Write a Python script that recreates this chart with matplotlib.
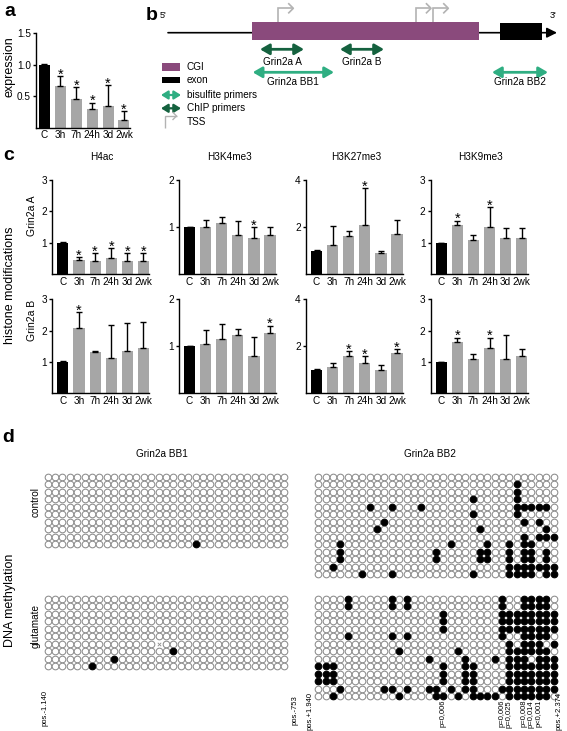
import matplotlib
matplotlib.use('Agg')
import matplotlib.pyplot as plt
from matplotlib.patches import Rectangle, FancyArrowPatch
import matplotlib.transforms as mtransforms
import numpy as np

plt.rcParams['font.family'] = ['Liberation Sans', 'DejaVu Sans']

# ---------------- data ----------------
times = ['C', '3h', '7h', '24h', '3d', '2wk']

expr_mean = [1.0, 0.66, 0.45, 0.30, 0.35, 0.13]
expr_err = [0.01, 0.16, 0.19, 0.10, 0.33, 0.13]
expr_sig = [0, 1, 1, 1, 1, 1]

marks = ['H4ac', 'H3K4me3', 'H3K27me3', 'H3K9me3']
mark_ymax = [3, 2, 4, 3]
mark_yticks = [[1, 2, 3], [1, 2], [2, 4], [1, 2, 3]]
regions = ['Grin2a A', 'Grin2a B']

h4ac_A_mean = [1.0, 0.46, 0.42, 0.51, 0.42, 0.42]
h4ac_A_err = [0.02, 0.08, 0.25, 0.32, 0.25, 0.25]
h4ac_A_sig = [0, 1, 1, 1, 1, 1]
h3k4_A_mean = [1.0, 1.0, 1.08, 0.84, 0.77, 0.83]
h3k4_A_err = [0.01, 0.16, 0.13, 0.30, 0.23, 0.18]
h3k4_A_sig = [0, 0, 0, 0, 1, 0]
h3k27_A_mean = [1.0, 1.26, 1.61, 2.10, 0.91, 1.69]
h3k27_A_err = [0.03, 0.77, 0.22, 1.57, 0.06, 0.60]
h3k27_A_sig = [0, 0, 0, 1, 0, 0]
h3k9_A_mean = [1.0, 1.58, 1.10, 1.50, 1.16, 1.17]
h3k9_A_err = [0.01, 0.13, 0.15, 0.65, 0.31, 0.29]
h3k9_A_sig = [0, 1, 0, 1, 0, 0]

h4ac_B_mean = [1.0, 2.07, 1.31, 1.14, 1.35, 1.46]
h4ac_B_err = [0.02, 0.52, 0.05, 1.04, 0.88, 0.83]
h4ac_B_sig = [0, 1, 0, 0, 0, 0]
h3k4_B_mean = [1.0, 1.04, 1.15, 1.25, 0.80, 1.28]
h3k4_B_err = [0.01, 0.30, 0.33, 0.12, 0.40, 0.16]
h3k4_B_sig = [0, 0, 0, 0, 0, 1]
h3k27_B_mean = [0.99, 1.10, 1.59, 1.30, 1.01, 1.72]
h3k27_B_err = [0.03, 0.21, 0.21, 0.29, 0.19, 0.18]
h3k27_B_sig = [0, 0, 1, 1, 0, 1]
h3k9_B_mean = [1.0, 1.65, 1.10, 1.43, 1.10, 1.20]
h3k9_B_err = [0.01, 0.13, 0.14, 0.35, 0.76, 0.21]
h3k9_B_sig = [0, 1, 0, 1, 0, 0]

# methylation grids: filled CpG columns per clone (row)
n_cpg_bb1 = 33
n_cpg_bb2 = 33
bb1_control_filled = [[], [], [], [], [], [], [], [], [], [20]]
bb1_glutamate_filled = [[], [], [], [], [], [], [], [17], [9], [6]]
bb1_glutamate_missing = [(6, 15)]
bb2_control_filled = [
    [],
    [27],
    [27],
    [21, 27],
    [7, 10, 14, 27, 28, 29, 30, 31],
    [21, 27],
    [9, 28, 30],
    [8, 22, 31],
    [28, 30, 31, 32],
    [3, 18, 23, 26, 28, 29],
    [3, 16, 22, 23, 26, 28, 29, 31],
    [3, 16, 22, 23, 26, 28, 29, 31],
    [2, 26, 27, 28, 29, 30, 31, 32],
    [6, 10, 21, 26, 27, 28, 29, 31, 32],
]
bb2_glutamate_filled = [
    [4, 10, 12, 25, 28, 29, 30, 31],
    [4, 10, 12, 25, 28, 29, 30, 31],
    [17, 25, 26, 27, 28, 29, 30, 31, 32],
    [17, 25, 26, 27, 28, 29, 30, 31, 32],
    [17, 25, 26, 27, 28, 29, 30, 31, 32],
    [4, 10, 12, 25, 28, 29, 30, 31],
    [26, 28, 29, 30, 32],
    [11, 19, 26, 27, 28, 29, 30, 31],
    [15, 20, 24, 26, 27, 28, 30, 31, 32],
    [0, 1, 2, 17, 20, 21, 26, 27, 28, 29, 30, 31, 32],
    [0, 1, 2, 17, 20, 21, 26, 27, 28, 29, 30, 31, 32],
    [0, 1, 2, 17, 20, 21, 26, 27, 28, 29, 30, 31, 32],
    [3, 9, 10, 12, 15, 16, 18, 20, 21, 25, 26, 27, 28, 29, 30, 31, 32],
    [2, 11, 16, 17, 19, 21, 22, 23, 24, 26, 27, 28, 29, 30, 31],
]
pval_cols = [17, 25, 26, 28, 29, 30]
pval_labels = ['p=0,006', 'p=0,006', 'p=0,025', 'p=0,008', 'p=0,014', 'p<0,001']

# gene diagram (panel b, drawing units)
gene_span = (168, 557)
cgi_span = (251.7, 479)
exon_span = (500, 541.7)
tss_pos = [278.3, 416, 433.3]
chip_names = ['Grin2a A', 'Grin2a B']
chip_spans = [(260, 304), (340, 384)]
bis_names = ['Grin2a BB1', 'Grin2a BB2']
bis_spans = [(252.7, 334), (492, 548)]

# ---------------- figure ----------------
W, H = 567, 731
fig = plt.figure(figsize=(W / 100, H / 100), dpi=100)

def px_axes(x0, y0, x1, y1):
    return fig.add_axes([x0 / W, 1 - y1 / H, (x1 - x0) / W, (y1 - y0) / H])

def ftext(x, y, s, **kw):
    return fig.text(x / W, 1 - y / H, s, **kw)

FS = 7.2
BLACK = '#000000'
GREY = '#a6a6a6'
CGI_C = '#8a4a7c'
BIS_C = '#2fae82'
CHIP_C = '#15623f'
TSS_C = '#b3b3b3'


def bar_panel(ax, means, errs, sig, ymax, yticks, ylabels, xleft, xright):
    x = np.arange(len(times))
    colors = [BLACK] + [GREY] * (len(times) - 1)
    ax.bar(x, means, width=0.69, color=colors, zorder=2)
    ax.errorbar(x, means, yerr=[np.zeros(len(x)), errs], fmt='none',
                ecolor='black', elinewidth=1.0, capsize=2.3, capthick=1.0, zorder=3)
    trans = mtransforms.offset_copy(ax.transData, fig=fig, x=0, y=-1.9, units='points')
    for xi, m, e, s in zip(x, means, errs, sig):
        if s:
            ax.text(xi, m + e, '*', ha='center', va='baseline', fontsize=10.5,
                    transform=trans, clip_on=False)
    ax.set_xlim(xleft, xright)
    ax.set_ylim(0, ymax)
    for sp in ['top', 'right']:
        ax.spines[sp].set_visible(False)
    for sp in ['left', 'bottom']:
        ax.spines[sp].set_linewidth(1.0)
    ax.set_yticks(yticks)
    ax.set_yticklabels(ylabels, fontsize=FS)
    ax.set_xticks(x)
    ax.set_xticklabels(times, fontsize=FS)
    ax.tick_params(axis='x', length=0, pad=2)
    ax.tick_params(axis='y', length=2.2, width=1.0, pad=1.5)
    ax.patch.set_alpha(0)


# ---- panel a ----
ftext(10, 12, 'a', fontsize=14, fontweight='bold', ha='center', va='center')
axa = px_axes(36, 33.3, 129.5, 127.7)
bar_panel(axa, expr_mean, expr_err, expr_sig, 1.5, [0.5, 1.0, 1.5],
          ['0.5', '1.0', '1.5'], -0.53, 5.35)
ftext(10, 67, 'expression', fontsize=9, rotation=90, ha='center', va='center')

# ---- panel b ----
ftext(152, 15, 'b', fontsize=14, fontweight='bold', ha='center', va='center')
axb = px_axes(140, 0, 567, 135)
axb.set_xlim(140, 567)
axb.set_ylim(135, 0)
axb.axis('off')
line_y = 32.7
axb.text(163, 15, "5'", fontsize=6.5, ha='center', va='center')
axb.text(553, 15, "3'", fontsize=6.5, ha='center', va='center')
axb.add_patch(FancyArrowPatch((gene_span[0], line_y), (gene_span[1], line_y),
                              arrowstyle='-|>,head_length=0.6,head_width=0.3',
                              mutation_scale=10, color='black', lw=1.2,
                              shrinkA=0, shrinkB=0, zorder=1))
axb.add_patch(Rectangle((cgi_span[0], 21.7), cgi_span[1] - cgi_span[0], 18.3,
                        facecolor=CGI_C, edgecolor='none', zorder=2))
axb.add_patch(Rectangle((exon_span[0], 22.7), exon_span[1] - exon_span[0], 17.3,
                        facecolor='black', edgecolor='none', zorder=2))


def tss_icon(x, ybase, ytop, length, lw=1.2, head=4.5):
    axb.plot([x, x, x + length], [ybase, ytop, ytop], color=TSS_C, lw=lw,
             solid_capstyle='butt', solid_joinstyle='miter', zorder=3)
    axb.plot([x + length - head, x + length, x + length - head],
             [ytop - head, ytop, ytop + head], color=TSS_C, lw=lw, zorder=3)


for tx in tss_pos:
    tss_icon(tx, 21.7, 8.3, 15)


def dbl_arrow(x0, x1, y, color, hl=0.55, hw=0.32, lw=2.0):
    axb.add_patch(FancyArrowPatch((x0, y), (x1, y),
                                  arrowstyle='<|-|>,head_length=%g,head_width=%g' % (hl, hw),
                                  mutation_scale=10, color=color, lw=lw,
                                  shrinkA=0, shrinkB=0))


for name, (s0, s1) in zip(chip_names, chip_spans):
    dbl_arrow(s0, s1, 49.3, CHIP_C)
    axb.text((s0 + s1) / 2, 61.7, name, fontsize=FS, ha='center', va='center')
for name, (s0, s1) in zip(bis_names, bis_spans):
    dbl_arrow(s0, s1, 72.3, BIS_C)
    axb.text((s0 + s1) / 2, 81.7, name, fontsize=FS, ha='center', va='center')

# legend
axb.add_patch(Rectangle((161.7, 62.7), 18.3, 8, facecolor=CGI_C, edgecolor='none'))
axb.add_patch(Rectangle((161.7, 76.7), 18.3, 6.6, facecolor='black', edgecolor='none'))
dbl_arrow(161, 181, 95, BIS_C, hl=0.4, hw=0.25, lw=1.6)
dbl_arrow(161, 181, 108.3, CHIP_C, hl=0.4, hw=0.25, lw=1.6)
tss_icon(165, 128, 116, 11.5, lw=1.0, head=3.5)
for ty, lab in zip([66.7, 80, 95, 108.3, 121.7],
                   ['CGI', 'exon', 'bisulfite primers', 'ChIP primers', 'TSS']):
    axb.text(186.7, ty, lab, fontsize=FS, ha='left', va='center')

# ---- panel c ----
ftext(9, 155, 'c', fontsize=14, fontweight='bold', ha='center', va='center')
col_left = [52.3, 179, 306, 430.7]
row_tb = [(180, 274.3), (299.3, 393.3)]
data_c = [
    [(h4ac_A_mean, h4ac_A_err, h4ac_A_sig), (h3k4_A_mean, h3k4_A_err, h3k4_A_sig),
     (h3k27_A_mean, h3k27_A_err, h3k27_A_sig), (h3k9_A_mean, h3k9_A_err, h3k9_A_sig)],
    [(h4ac_B_mean, h4ac_B_err, h4ac_B_sig), (h3k4_B_mean, h3k4_B_err, h3k4_B_sig),
     (h3k27_B_mean, h3k27_B_err, h3k27_B_sig), (h3k9_B_mean, h3k9_B_err, h3k9_B_sig)],
]
for r in range(2):
    for c in range(4):
        t, b = row_tb[r]
        ax = px_axes(col_left[c], t, col_left[c] + 97, b)
        m, e, s = data_c[r][c]
        bar_panel(ax, m, e, s, mark_ymax[c], mark_yticks[c],
                  [str(v) for v in mark_yticks[c]], -0.66, 5.37)
        if r == 0:
            ftext(col_left[c] + 50, 157, marks[c], fontsize=FS, ha='center', va='center')
ftext(31.7, 216, regions[0], fontsize=7.5, rotation=90, ha='center', va='center')
ftext(31.7, 320, regions[1], fontsize=7.5, rotation=90, ha='center', va='center')
ftext(10, 285, 'histone modifications', fontsize=9, rotation=90, ha='center', va='center')

# ---- panel d ----
ftext(8, 437, 'd', fontsize=14, fontweight='bold', ha='center', va='center')
ftext(161.7, 454, 'Grin2a BB1', fontsize=FS, ha='center', va='center')
ftext(430, 454, 'Grin2a BB2', fontsize=FS, ha='center', va='center')
ftext(35.5, 502, 'control', fontsize=7.2, rotation=90, ha='center', va='center')
ftext(35.5, 626, 'glutamate', fontsize=7.2, rotation=90, ha='center', va='center')
ftext(10, 600, 'DNA methylation', fontsize=9, rotation=90, ha='center', va='center')


def meth_grid(x0, y0, dx, dy, ncol, filled, missing=()):
    nrow = len(filled)
    ax = px_axes(x0 - dx / 2, y0 - dy / 2, x0 + (ncol - 0.5) * dx, y0 + (nrow - 0.5) * dy)
    ax.set_xlim(-0.5, ncol - 0.5)
    ax.set_ylim(nrow - 0.5, -0.5)
    ax.axis('off')
    miss = set(missing)
    ox, oy, fx, fy, mx, my = [], [], [], [], [], []
    for r, row in enumerate(filled):
        for c in range(ncol):
            if (r, c) in miss:
                mx.append(c); my.append(r)
            elif c in row:
                fx.append(c); fy.append(r)
            else:
                ox.append(c); oy.append(r)
    ax.scatter(ox, oy, s=23, facecolor='white', edgecolor='#8c8c8c', linewidth=0.75,
               clip_on=False)
    ax.scatter(fx, fy, s=23, facecolor='black', edgecolor='black', linewidth=0.75,
               clip_on=False)
    if mx:
        ax.scatter(mx, my, s=6, marker='x', color='#8c8c8c', linewidth=0.6, clip_on=False)
    return ax


ax_b1c = meth_grid(47.5, 476.7, 7.4, 7.5, n_cpg_bb1, bb1_control_filled)
ax_b1g = meth_grid(47.5, 598.7, 7.4, 7.5, n_cpg_bb1, bb1_glutamate_filled,
                   bb1_glutamate_missing)
ax_b2c = meth_grid(318.3, 476.7, 7.35, 7.5, n_cpg_bb2, bb2_control_filled)
ax_b2g = meth_grid(318.3, 598.7, 7.35, 7.5, n_cpg_bb2, bb2_glutamate_filled)

PFS = 5.5
ax_b1g.text(-0.34, 12.2, 'pos.-1.140', fontsize=PFS, rotation=90, ha='center', va='top',
            clip_on=False)
ax_b1g.text(33.4, 12.9, 'pos.-753', fontsize=PFS, rotation=90, ha='center', va='top',
            clip_on=False)
ax_b2g.text(-1.13, 12.4, 'pos.+1.940', fontsize=PFS, rotation=90, ha='center', va='top',
            clip_on=False)
ax_b2g.text(32.7, 12.4, 'pos.+2.374', fontsize=PFS, rotation=90, ha='center', va='top',
            clip_on=False)
for col, lab in zip(pval_cols, pval_labels):
    ax_b2g.text(col, 13.5, lab, fontsize=PFS, rotation=90, ha='center', va='top',
                clip_on=False)

fig.savefig('out.png', dpi=100)
